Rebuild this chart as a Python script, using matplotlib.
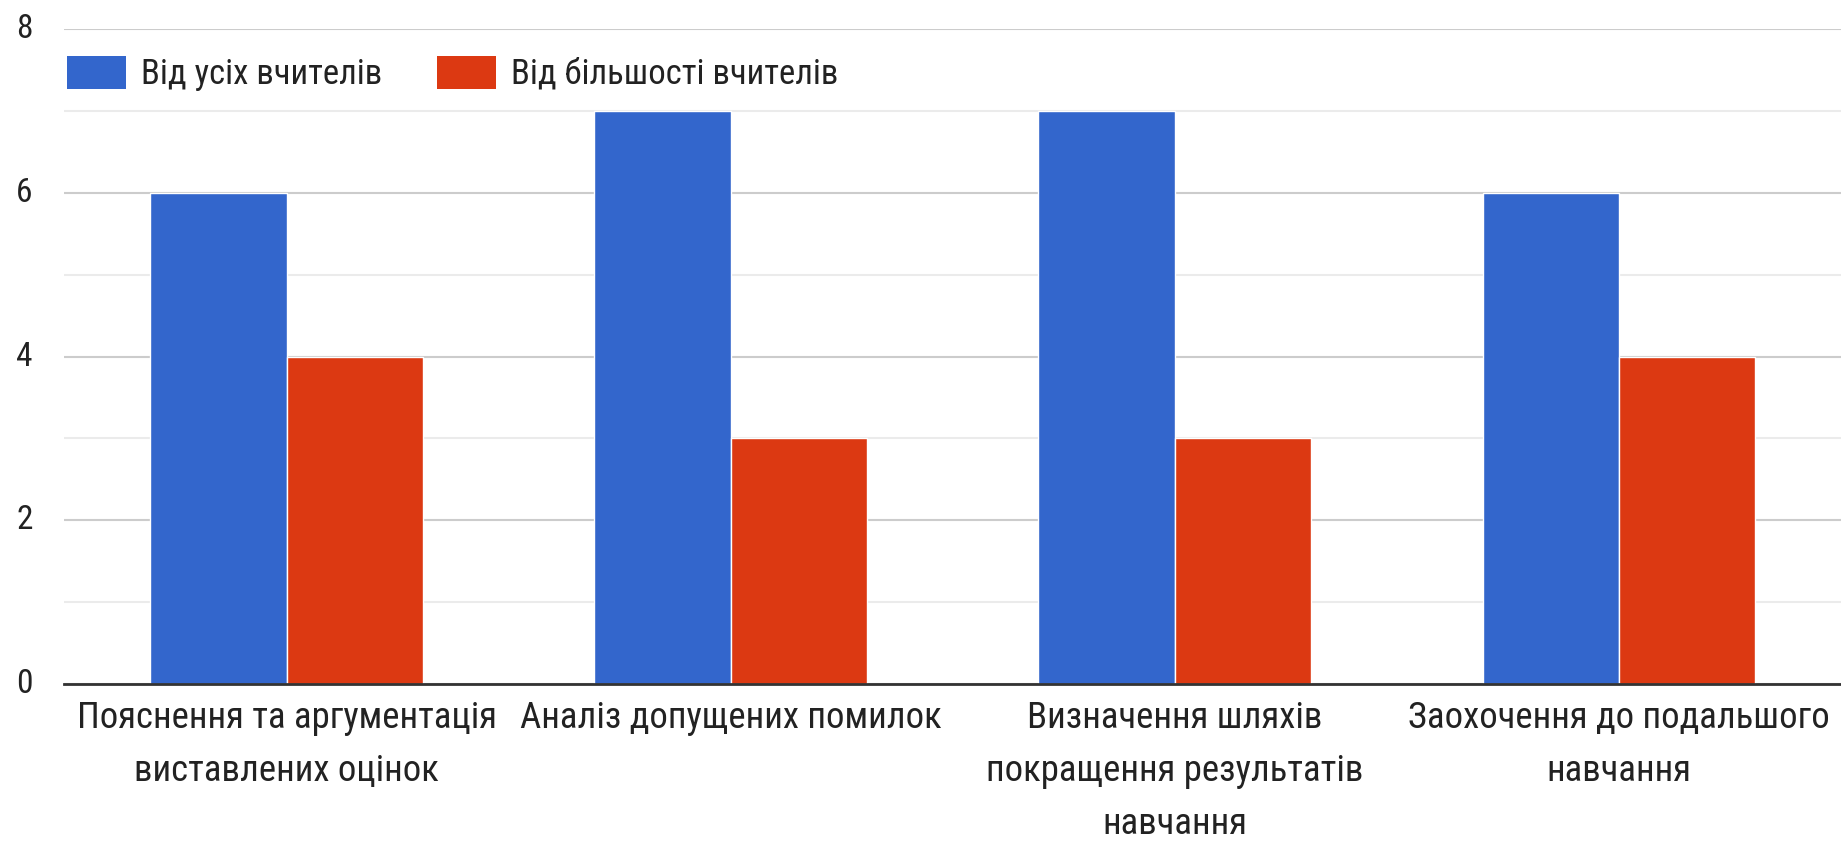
import matplotlib
matplotlib.use("Agg")
import matplotlib.pyplot as plt
import numpy as np
from matplotlib.patches import Patch
from matplotlib import font_manager

categories = ["Пояснення та аргументація\nвиставлених оцінок",
              "Аналіз допущених помилок",
              "Визначення шляхів\nпокращення результатів\nнавчання",
              "Заохочення до подальшого\nнавчання"]
series_names = ["Від усіх вчителів", "Від більшості вчителів"]
all_teachers = [6, 7, 7, 6]
most_teachers = [4, 3, 3, 4]
colors = ["#3366CC", "#DC3912"]

names = {f.name for f in font_manager.fontManager.ttflist}
cond = 'Roboto Condensed' in names
fams = (['Roboto Condensed'] if cond else []) + ['Liberation Sans', 'DejaVu Sans']
plt.rcParams['font.family'] = fams
fs = 26.5 if cond else 22
yfs = 24 if cond else 21
lfs = 25 if cond else 21

fig = plt.figure(figsize=(18.41, 8.42), dpi=100)
ax = fig.add_axes([0.035, 0.188, 0.965, 0.777])

x = np.arange(len(categories))
w = 0.307
ax.bar(x - w/2, all_teachers, w, color=colors[0], edgecolor="white", linewidth=1, zorder=3)
ax.bar(x + w/2, most_teachers, w, color=colors[1], edgecolor="white", linewidth=1, zorder=3)

ax.set_xlim(-0.5, 3.5)
ax.set_ylim(0, 8)
ax.set_yticks([0, 2, 4, 6, 8])
ax.set_yticks([1, 3, 5, 7], minor=True)
ax.grid(axis='y', which='major', color='#cccccc', linewidth=1.5, zorder=0)
ax.grid(axis='y', which='minor', color='#ebebeb', linewidth=1.5, zorder=0)
for s in ['top', 'right', 'left']:
    ax.spines[s].set_visible(False)
ax.spines['bottom'].set_color('#333333')
ax.spines['bottom'].set_linewidth(2)
ax.spines['bottom'].set_zorder(4)
ax.tick_params(axis='both', which='both', length=0, colors='#222222')
ax.tick_params(axis='x', labelsize=fs, pad=12)
ax.tick_params(axis='y', labelsize=yfs, pad=23)
ax.set_xticks(x)
ax.set_xticklabels(categories, linespacing=1.6)
for lbl in ax.get_yticklabels():
    lbl.set_verticalalignment('center')

handles = [Patch(facecolor=c, edgecolor='none') for c in colors]
fig.legend(handles, series_names, loc='center left', bbox_to_anchor=(0.0364, 0.913),
           ncol=2, frameon=False, fontsize=lfs, handlelength=1.7, handleheight=1.08,
           columnspacing=1.58, handletextpad=0.43, borderpad=0, borderaxespad=0,
           labelcolor='#222222')

fig.savefig("out.png", dpi=100, facecolor="white")
